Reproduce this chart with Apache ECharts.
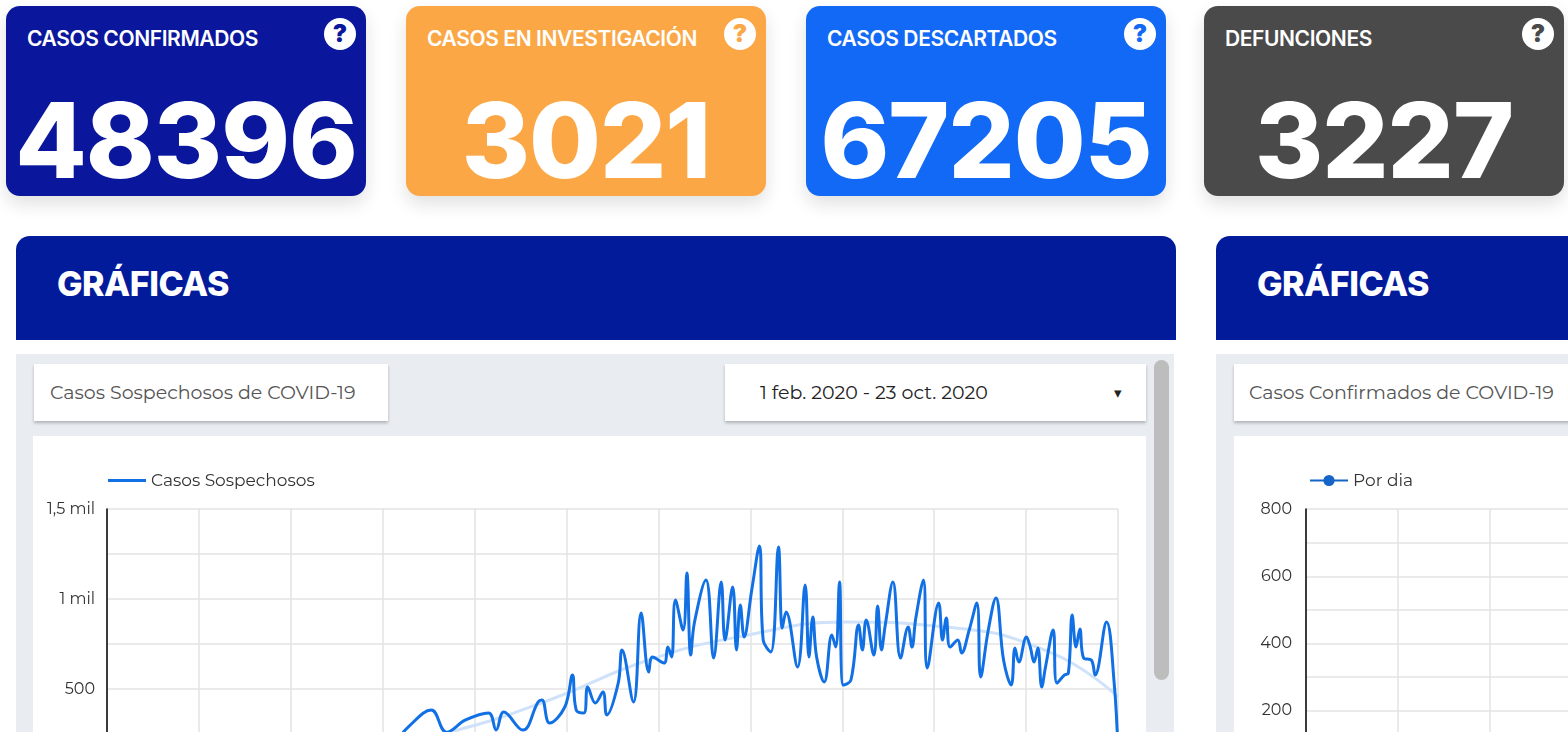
<!DOCTYPE html>
<html>
<head>
<meta charset="utf-8">
<title></title>
<style type="text/css">
  * { margin: 0; padding: 0; box-sizing: border-box; }
  body { width: 1568px; height: 732px; overflow: hidden; background: #fff; font-family: "Noto Sans", sans-serif; position: relative; }
  .card { position: absolute; top: 6px; width: 360px; height: 190px; border-radius: 14px; color: #fff; box-shadow: 0 8px 18px rgba(0,0,0,0.12); }
  .card .t { position: absolute; left: 21px; top: 20px; font-family: Inter, sans-serif; font-weight: 600; font-size: 21px; letter-spacing: -0.4px; }
  .card .q { position: absolute; right: 10px; top: 12px; width: 32px; height: 32px; border-radius: 50%; background: #fff; font-family: Inter, sans-serif; font-weight: 900; font-size: 24px; line-height: 32px; text-align: center; }
  .card .n { position: absolute; left: 0; right: 0; top: 72px; text-align: center; font-family: Inter, sans-serif; font-weight: 800; font-size: 104px; line-height: 124px; letter-spacing: -1px; }
  .hdr { position: absolute; top: 236px; height: 104px; background: #021b9b; border-radius: 14px 14px 0 0; color: #fff; font-family: Inter, sans-serif; font-weight: 800; font-size: 34px; letter-spacing: -0.5px; line-height: 96px; padding-left: 41px; }
  .panel { position: absolute; top: 354px; height: 400px; background: #e9edf1; }
  .box { position: absolute; background: #fff; box-shadow: 0 2px 3px rgba(0,0,0,0.25); font-family: Montserrat, "Noto Sans", sans-serif; font-size: 19px; color: #555; line-height: 57px; white-space: nowrap; overflow: hidden; }
  .chart { position: absolute; top: 436px; height: 380px; background: #fff; }
</style>
<script src="https://cdn.jsdelivr.net/npm/echarts@6/dist/echarts.min.js"></script>
</head>
<body>
  <div class="card" style="left:6px;background:#0a179c"><div class="t">CASOS CONFIRMADOS</div><div class="q" style="color:#0a179c">?</div><div class="n">48396</div></div>
  <div class="card" style="left:406px;background:#fba745"><div class="t">CASOS EN INVESTIGACIÓN</div><div class="q" style="color:#fba745">?</div><div class="n">3021</div></div>
  <div class="card" style="left:806px;background:#1269f5"><div class="t">CASOS DESCARTADOS</div><div class="q" style="color:#1269f5">?</div><div class="n">67205</div></div>
  <div class="card" style="left:1204px;background:#4a4a4a"><div class="t">DEFUNCIONES</div><div class="q" style="color:#4a4a4a">?</div><div class="n">3227</div></div>

  <div class="hdr" style="left:16px;width:1160px">GRÁFICAS</div>
  <div class="hdr" style="left:1216px;width:400px">GRÁFICAS</div>

  <div class="panel" style="left:16px;width:1158px"></div>
  <div class="panel" style="left:1216px;width:400px"></div>
  <div style="position:absolute;left:1154px;top:360px;width:15px;height:320px;border-radius:8px;background:#bdbdbd"></div>

  <div class="box" style="left:34px;top:364px;width:354px;height:57px;padding-left:16px">Casos Sospechosos de COVID-19</div>
  <div class="box" style="left:725px;top:364px;width:421px;height:57px;padding-left:35px;color:#222">1 feb. 2020 - 23 oct. 2020<span style="position:absolute;left:389px;top:0;font-size:15px">&#9662;</span></div>
  <div class="box" style="left:1234px;top:364px;width:400px;height:57px;padding-left:15px">Casos Confirmados de COVID-19</div>

  <div id="sosp" class="chart" style="left:33px;width:1113px"></div>
  <div id="conf" class="chart" style="left:1234px;width:1113px"></div>

<script type="text/javascript">
// dia (desde 1 feb. 2020) y casos sospechosos por dia
var dias = [0, 10, 20, 30, 40, 50, 60, 70, 75, 79, 85, 89, 94, 100, 102, 104, 109, 113, 114, 116, 120, 122, 123, 125, 126, 128, 130, 131, 134, 135, 138, 140, 142, 143, 146, 147, 148, 149, 151, 152, 153, 154, 157, 159, 161, 162, 164, 165, 166, 167, 169, 171, 172, 174, 176, 177, 178, 181, 183, 184, 185, 186, 188, 190, 191, 192, 193, 195, 197, 198, 199, 201, 202, 203, 204, 206, 208, 210, 211, 212, 214, 215, 218, 219, 220, 221, 223, 224, 226, 228, 229, 231, 233, 235, 237, 238, 239, 241, 242, 243, 244, 245, 246, 248, 249, 251, 252, 253, 254, 255, 256, 258, 259, 262, 264, 265];
var casos = [5, 12, 25, 40, 65, 90, 120, 160, 200, 290, 383, 260, 328, 367, 272, 372, 272, 428, 439, 311, 400, 578, 383, 367, 511, 422, 483, 356, 533, 717, 428, 922, 594, 678, 644, 733, 678, 994, 828, 1144, 689, 872, 1106, 672, 1094, 772, 1067, 717, 967, 789, 1050, 1295, 772, 706, 1289, 839, 928, 622, 1078, 678, 900, 678, 539, 800, 733, 1094, 522, 550, 856, 717, 883, 689, 961, 717, 856, 1094, 672, 844, 733, 894, 1106, 617, 978, 772, 894, 733, 772, 700, 828, 978, 567, 828, 1006, 661, 522, 728, 650, 789, 733, 650, 728, 511, 622, 828, 533, 578, 589, 911, 733, 833, 672, 661, 578, 872, 533, 150];
// linea de tendencia
var tendDias = [0, 30, 60, 90, 116, 142, 168, 194, 220, 247, 265];
var tendencia = [-300, -60, 120, 261, 439, 661, 800, 872, 844, 706, 456];
// casos confirmados por dia (grafica derecha)
var confDias = [0, 10, 20, 30, 40, 50, 60];
var porDia = [0, 2, 5, 12, 30, 60, 95];

function pares(xs, ys) {
  var out = [];
  for (var i = 0; i < xs.length; i++) out.push([xs[i], ys[i]]);
  return out;
}

function ejes(maxY, stepY, fmt) {
  return {
    xAxis: {
      type: 'value', min: 0, max: 265, interval: 265 / 11,
      axisLine: { show: false }, axisTick: { show: false }, axisLabel: { show: false },
      splitLine: { lineStyle: { color: '#e3e3e3', width: 1.5 } }
    },
    yAxis: {
      type: 'value', min: 0, max: maxY, interval: stepY,
      axisLine: { show: true, lineStyle: { color: '#000', width: 1.5 } },
      axisTick: { show: false },
      splitLine: { lineStyle: { color: '#e3e3e3', width: 1.5 } },
      axisLabel: { fontFamily: 'Montserrat, Noto Sans', fontSize: 16, color: '#333', margin: 12, formatter: fmt }
    }
  };
}

var sosp = echarts.init(document.getElementById('sosp'));
var a1 = ejes(1500, 250, function (v) {
  if (v % 500 !== 0) return '';
  if (v >= 1000) return (v / 1000 + '').replace('.', ',') + ' mil';
  return v;
});
sosp.setOption({
  animation: false,
  legend: {
    left: 70, top: 31, itemWidth: 38, itemHeight: 3,
    data: [{ name: 'Casos Sospechosos', icon: 'rect', itemStyle: { color: '#1170e4' } }],
    textStyle: { fontFamily: 'Montserrat, Noto Sans', fontSize: 17, color: '#333' }
  },
  grid: { left: 74, top: 73, width: 1011, height: 270 },
  xAxis: a1.xAxis,
  yAxis: a1.yAxis,
  series: [
    { name: 'tendencia', type: 'line', data: pares(tendDias, tendencia), smooth: true, showSymbol: false,
      lineStyle: { color: '#cfe2f9', width: 3 }, z: 1 },
    { name: 'Casos Sospechosos', type: 'line', data: pares(dias, casos), smooth: 0.4, showSymbol: false,
      lineStyle: { color: '#1170e4', width: 3 }, itemStyle: { color: '#1170e4' }, z: 2 }
  ]
});

var conf = echarts.init(document.getElementById('conf'));
var a2 = ejes(800, 100, function (v) { return v % 200 === 0 ? v : ''; });
a2.yAxis.axisLabel.margin = 14;
conf.setOption({
  animation: false,
  legend: {
    left: 70, top: 31, itemWidth: 38,
    data: ['Por dia'],
    textStyle: { fontFamily: 'Montserrat, Noto Sans', fontSize: 17, color: '#333' }
  },
  grid: { left: 72, top: 73, width: 1011, height: 269 },
  xAxis: a2.xAxis,
  yAxis: a2.yAxis,
  series: [
    { name: 'Por dia', type: 'line', data: pares(confDias, porDia), symbol: 'circle', symbolSize: 8,
      lineStyle: { color: '#1565c8', width: 3 }, itemStyle: { color: '#1565c8' } }
  ]
});
</script>
</body>
</html>
